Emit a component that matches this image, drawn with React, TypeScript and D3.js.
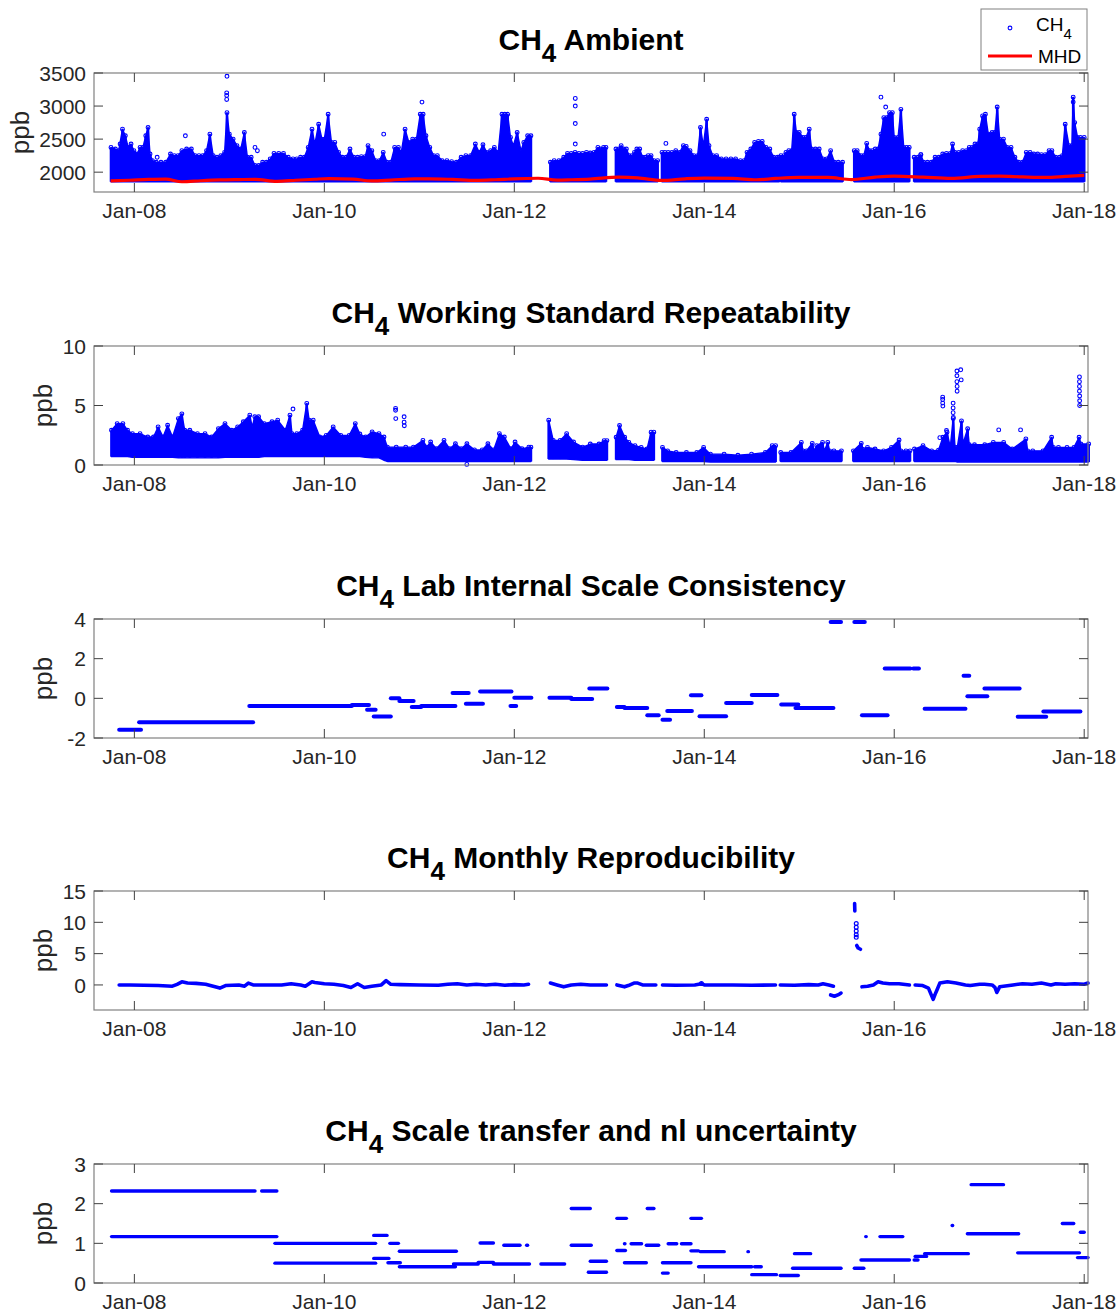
import React from 'react';
import * as d3 from 'd3';

// ---------- axis ticks ----------
const xTickYears = [2008, 2010, 2012, 2014, 2016, 2018];
const xTickLabels = ['Jan-08', 'Jan-10', 'Jan-12', 'Jan-14', 'Jan-16', 'Jan-18'];

const ambientTicks = [2000, 2500, 3000, 3500];
const repeatTicks = [0, 5, 10];
const labTicks = [-2, 0, 2, 4];
const monthlyTicks = [0, 5, 10, 15];
const transferTicks = [0, 1, 2, 3];

// ---------- CH4 ambient (decimal year, upper edge of the dense cloud, ppb); null = no data ----------
const AMBIENT_FLOOR = 1855;
const ambientTop: ([number, number] | null)[] = [
  [2007.754, 2375], [2007.8, 2350], [2007.835, 2325], [2007.875, 2650], [2007.905, 2550], [2007.935, 2375],
  [2007.965, 2425], [2007.995, 2325], [2008.03, 2275], [2008.06, 2375], [2008.09, 2375], [2008.12, 2550],
  [2008.144, 2675], [2008.165, 2275], [2008.19, 2175], [2008.23, 2150], [2008.28, 2150], [2008.33, 2150],
  [2008.38, 2275], [2008.42, 2250], [2008.46, 2250], [2008.5, 2325], [2008.55, 2350], [2008.6, 2350],
  [2008.64, 2250], [2008.68, 2250], [2008.72, 2250], [2008.76, 2325], [2008.795, 2575], [2008.83, 2250],
  [2008.87, 2225], [2008.91, 2250], [2008.95, 2300], [2008.975, 2900], [2009.0, 2575], [2009.04, 2500],
  [2009.08, 2400], [2009.12, 2350], [2009.158, 2600], [2009.19, 2225], [2009.23, 2225], [2009.27, 2100],
  [2009.31, 2100], [2009.35, 2150], [2009.39, 2150], [2009.43, 2200], [2009.47, 2285], [2009.52, 2285],
  [2009.57, 2285], [2009.62, 2225], [2009.67, 2200], [2009.71, 2200], [2009.75, 2225], [2009.79, 2225],
  [2009.83, 2375], [2009.87, 2650], [2009.9, 2425], [2009.94, 2725], [2009.975, 2500], [2010.0, 2500],
  [2010.04, 2875], [2010.075, 2450], [2010.11, 2450], [2010.15, 2300], [2010.19, 2225], [2010.23, 2225],
  [2010.27, 2350], [2010.31, 2225], [2010.35, 2225], [2010.39, 2235], [2010.43, 2235], [2010.46, 2400],
  [2010.5, 2325], [2010.54, 2175], [2010.58, 2175], [2010.62, 2300], [2010.66, 2150], [2010.7, 2150],
  [2010.74, 2375], [2010.78, 2375], [2010.81, 2300], [2010.85, 2650], [2010.89, 2450], [2010.93, 2500],
  [2010.97, 2500], [2011.01, 2875], [2011.04, 2875], [2011.07, 2550], [2011.11, 2375], [2011.15, 2250],
  [2011.19, 2250], [2011.24, 2175], [2011.29, 2175], [2011.34, 2160], [2011.39, 2150], [2011.44, 2225],
  [2011.49, 2250], [2011.54, 2250], [2011.59, 2425], [2011.63, 2300], [2011.67, 2415], [2011.71, 2300],
  [2011.75, 2325], [2011.79, 2375], [2011.83, 2300], [2011.87, 2875], [2011.9, 2875], [2011.93, 2875],
  [2011.96, 2525], [2011.99, 2400], [2012.03, 2600], [2012.07, 2325], [2012.1, 2450], [2012.14, 2550],
  [2012.175, 2550],
  null,
  [2012.38, 2150], [2012.42, 2175], [2012.47, 2175], [2012.52, 2225], [2012.56, 2285], [2012.6, 2285],
  [2012.64, 2300], [2012.68, 2285], [2012.72, 2285], [2012.76, 2300], [2012.8, 2290], [2012.84, 2300],
  [2012.88, 2375], [2012.91, 2350], [2012.94, 2375], [2012.965, 2375],
  null,
  [2013.07, 2350], [2013.1, 2350], [2013.125, 2400], [2013.15, 2350], [2013.18, 2350], [2013.21, 2250],
  [2013.24, 2250], [2013.265, 2300], [2013.29, 2350], [2013.32, 2350], [2013.35, 2225], [2013.38, 2225],
  [2013.41, 2250], [2013.44, 2250], [2013.47, 2175], [2013.509, 2175],
  null,
  [2013.555, 2300], [2013.585, 2300], [2013.62, 2300], [2013.66, 2300], [2013.7, 2325], [2013.74, 2300],
  [2013.78, 2400], [2013.81, 2390], [2013.85, 2325], [2013.89, 2250], [2013.93, 2250], [2013.96, 2675],
  [2013.99, 2400], [2014.025, 2800], [2014.05, 2400], [2014.09, 2250], [2014.13, 2250], [2014.18, 2200],
  [2014.23, 2200], [2014.28, 2200], [2014.33, 2200], [2014.38, 2175], [2014.42, 2175], [2014.45, 2300],
  [2014.49, 2350], [2014.53, 2450], [2014.57, 2465], [2014.61, 2465], [2014.65, 2375], [2014.69, 2350],
  [2014.73, 2225], [2014.77, 2225], [2014.789, 2225],
  null,
  [2014.807, 2250], [2014.84, 2250], [2014.86, 2300], [2014.89, 2325], [2014.92, 2325], [2014.947, 2875],
  [2014.97, 2600], [2015.0, 2600], [2015.04, 2525], [2015.07, 2525], [2015.105, 2650], [2015.13, 2350],
  [2015.17, 2350], [2015.21, 2350], [2015.25, 2200], [2015.29, 2200], [2015.33, 2325], [2015.37, 2150],
  [2015.41, 2150], [2015.456, 2150],
  null,
  [2015.579, 2325], [2015.61, 2325], [2015.65, 2250], [2015.68, 2250], [2015.71, 2435], [2015.74, 2325],
  [2015.77, 2325], [2015.8, 2350], [2015.83, 2350], [2015.86, 2575], [2015.89, 2825], [2015.92, 2825],
  [2015.95, 2900], [2015.98, 2900], [2016.0, 2525], [2016.04, 2525], [2016.07, 2950], [2016.1, 2375],
  [2016.13, 2375], [2016.158, 2375],
  null,
  [2016.21, 2225], [2016.25, 2225], [2016.28, 2265], [2016.31, 2150], [2016.35, 2150], [2016.39, 2150],
  [2016.43, 2225], [2016.47, 2225], [2016.51, 2275], [2016.55, 2285], [2016.59, 2285], [2016.614, 2425],
  [2016.64, 2300], [2016.68, 2300], [2016.72, 2325], [2016.76, 2325], [2016.79, 2375], [2016.82, 2375],
  [2016.85, 2425], [2016.88, 2425], [2016.9, 2650], [2016.93, 2850], [2016.96, 2875], [2016.99, 2575],
  [2017.03, 2600], [2017.06, 2600], [2017.084, 2985], [2017.11, 2500], [2017.15, 2500], [2017.19, 2375],
  [2017.23, 2375], [2017.27, 2225], [2017.31, 2150], [2017.35, 2150], [2017.39, 2300], [2017.43, 2300],
  [2017.47, 2275], [2017.51, 2275], [2017.55, 2265], [2017.59, 2265], [2017.63, 2325], [2017.66, 2325],
  [2017.7, 2225], [2017.74, 2225], [2017.77, 2250], [2017.8, 2725], [2017.84, 2400], [2017.87, 2400],
  [2017.884, 3135], [2017.9, 2750], [2017.93, 2525], [2017.96, 2525], [2018.0, 2525],
];

// isolated ambient samples above the cloud
const ambientOutliers: [number, number][] = [
  [2007.85, 2425], [2008.24, 2225], [2008.537, 2550], [2008.975, 3450], [2008.972, 3200], [2008.972, 3160],
  [2008.972, 3100], [2009.27, 2375], [2009.295, 2325], [2010.625, 2575], [2011.028, 3060], [2012.642, 3115],
  [2012.642, 3000], [2012.642, 2735], [2012.642, 2425], [2013.596, 2435], [2015.86, 3135], [2015.91, 2985],
  [2017.884, 3060], [2016.28, 2265],
];

// Mace Head baseline (decimal year, ppb)
const mhd: [number, number][] = [
  [2007.75, 1868], [2007.95, 1878], [2008.15, 1890], [2008.33, 1895], [2008.5, 1855], [2008.7, 1870],
  [2008.9, 1882], [2009.1, 1888], [2009.27, 1892], [2009.5, 1862], [2009.7, 1878], [2009.9, 1893],
  [2010.05, 1902], [2010.3, 1895], [2010.5, 1868], [2010.7, 1880], [2010.95, 1900], [2011.1, 1900],
  [2011.35, 1890], [2011.6, 1875], [2011.8, 1885], [2012.0, 1900], [2012.25, 1908], [2012.45, 1880],
  [2012.6, 1885], [2012.8, 1895], [2013.1, 1925], [2013.3, 1915], [2013.55, 1875], [2013.8, 1900],
  [2014.0, 1910], [2014.3, 1905], [2014.55, 1885], [2014.75, 1905], [2015.0, 1920], [2015.3, 1920],
  [2015.55, 1888], [2015.8, 1925], [2016.0, 1940], [2016.3, 1925], [2016.6, 1905], [2016.9, 1935],
  [2017.1, 1940], [2017.35, 1928], [2017.6, 1920], [2017.8, 1935], [2018.0, 1950],
];

// ---------- working standard repeatability (decimal year, low, high, ppb); null = no data ----------
const repeatBand: ([number, number, number] | null)[] = [
  [2007.759, 0.7, 2.92], [2007.819, 0.7, 3.48], [2007.879, 0.7, 3.48], [2007.928, 0.7, 2.92], [2007.98, 0.65, 2.63],
  [2008.06, 0.65, 2.63], [2008.141, 0.65, 2.35], [2008.201, 0.65, 2.35], [2008.25, 0.65, 3.2], [2008.302, 0.65, 2.35],
  [2008.35, 0.65, 3.34], [2008.402, 0.65, 2.35], [2008.463, 0.6, 3.9], [2008.5, 0.6, 4.3], [2008.53, 0.6, 2.92],
  [2008.584, 0.6, 2.92], [2008.664, 0.6, 2.63], [2008.744, 0.6, 2.63], [2008.813, 0.6, 2.35], [2008.885, 0.6, 3.06],
  [2008.954, 0.65, 3.48], [2009.026, 0.65, 2.92], [2009.087, 0.65, 3.2], [2009.147, 0.65, 3.63], [2009.215, 0.65, 4.19],
  [2009.24, 0.65, 3.2], [2009.268, 0.65, 4.05], [2009.308, 0.65, 4.05], [2009.368, 0.7, 3.48], [2009.449, 0.7, 3.63],
  [2009.509, 0.7, 3.77], [2009.59, 0.7, 2.92], [2009.638, 0.7, 4.19], [2009.66, 0.7, 2.63], [2009.71, 0.7, 2.63],
  [2009.771, 0.7, 2.92], [2009.815, 0.7, 5.18], [2009.84, 0.7, 3.77], [2009.883, 0.7, 3.77], [2009.952, 0.7, 2.35],
  [2010.02, 0.7, 2.49], [2010.093, 0.7, 3.2], [2010.173, 0.7, 2.49], [2010.262, 0.7, 2.49], [2010.326, 0.7, 3.48],
  [2010.374, 0.7, 2.6], [2010.435, 0.65, 2.35], [2010.503, 0.6, 2.78], [2010.575, 0.6, 2.63], [2010.628, 0.4, 2.35],
  [2010.664, 0.3, 1.5], [2010.757, 0.3, 1.5], [2010.857, 0.3, 1.5], [2010.938, 0.3, 1.5], [2011.038, 0.3, 2.07],
  [2011.078, 0.3, 1.5], [2011.119, 0.3, 1.93], [2011.179, 0.3, 1.36], [2011.26, 0.3, 2.07], [2011.32, 0.3, 1.36],
  [2011.38, 0.3, 1.78], [2011.441, 0.3, 1.36], [2011.501, 0.3, 1.78], [2011.581, 0.3, 1.27], [2011.662, 0.3, 1.27],
  [2011.722, 0.3, 1.78], [2011.783, 0.3, 1.27], [2011.843, 0.3, 2.63], [2011.895, 0.3, 2.35], [2011.964, 0.3, 1.36],
  [2012.008, 0.3, 1.93], [2012.08, 0.3, 1.36], [2012.153, 0.3, 1.5], [2012.175, 0.3, 1.5],
  null,
  [2012.362, 0.5, 3.77], [2012.41, 0.5, 2.07], [2012.483, 0.5, 2.07], [2012.551, 0.5, 2.63], [2012.624, 0.45, 1.93],
  [2012.72, 0.4, 1.5], [2012.8, 0.4, 1.76], [2012.892, 0.4, 1.76], [2012.946, 0.4, 2.05], [2012.975, 0.4, 2.05],
  null,
  [2013.072, 0.45, 2.33], [2013.108, 0.45, 3.32], [2013.162, 0.45, 2.33], [2013.206, 0.45, 1.9], [2013.271, 0.4, 1.62],
  [2013.336, 0.4, 1.48], [2013.397, 0.4, 1.34], [2013.44, 0.4, 2.76], [2013.469, 0.4, 2.76],
  null,
  [2013.56, 0.3, 1.48], [2013.614, 0.3, 1.19], [2013.704, 0.3, 1.05], [2013.812, 0.3, 1.05], [2013.921, 0.3, 1.05],
  [2013.993, 0.3, 1.48], [2014.065, 0.25, 0.91], [2014.209, 0.25, 0.91], [2014.354, 0.25, 0.82], [2014.498, 0.25, 0.91],
  [2014.643, 0.25, 1.05], [2014.715, 0.25, 1.62], [2014.751, 0.25, 1.62],
  null,
  [2014.805, 0.3, 1.05], [2014.913, 0.3, 1.05], [2015.022, 0.3, 1.9], [2015.04, 0.3, 1.19], [2015.076, 0.3, 1.19],
  [2015.137, 0.3, 1.82], [2015.16, 0.3, 1.19], [2015.184, 0.3, 1.62], [2015.245, 0.3, 1.9], [2015.265, 0.3, 1.19],
  [2015.3, 0.3, 1.9], [2015.32, 0.3, 1.19], [2015.365, 0.3, 1.19], [2015.444, 0.3, 1.19],
  null,
  [2015.57, 0.3, 1.19], [2015.653, 0.3, 1.82], [2015.675, 0.3, 1.3], [2015.718, 0.3, 1.48], [2015.798, 0.3, 1.34],
  [2015.888, 0.3, 1.19], [2015.971, 0.3, 1.48], [2016.051, 0.3, 2.1], [2016.07, 0.3, 1.19], [2016.123, 0.3, 1.19],
  [2016.166, 0.3, 1.19],
  null,
  [2016.213, 0.3, 1.34], [2016.303, 0.3, 1.62], [2016.394, 0.3, 1.19], [2016.466, 0.3, 1.25], [2016.513, 0.3, 2.33],
  [2016.556, 0.3, 2.76], [2016.59, 0.3, 1.5], [2016.621, 0.3, 3.9], [2016.64, 0.3, 1.5], [2016.664, 0.25, 1.48],
  [2016.708, 0.25, 3.7], [2016.725, 0.25, 1.8], [2016.773, 0.25, 3.04], [2016.79, 0.25, 1.7], [2016.845, 0.25, 1.7],
  [2016.953, 0.25, 1.7], [2017.043, 0.25, 1.9], [2017.152, 0.25, 1.9], [2017.242, 0.25, 1.34], [2017.386, 0.25, 2.19],
  [2017.405, 0.25, 1.19], [2017.458, 0.25, 1.19], [2017.567, 0.25, 1.19], [2017.657, 0.25, 2.33], [2017.675, 0.25, 1.48],
  [2017.729, 0.25, 1.48], [2017.819, 0.25, 1.48], [2017.892, 0.25, 1.48], [2017.946, 0.25, 2.33], [2017.965, 0.25, 1.76],
  [2018.047, 0.25, 1.76],
];

// isolated repeatability samples
const repeatOutliers: [number, number][] = [
  [2009.67, 4.7], [2010.75, 4.76], [2010.75, 4.6], [2010.752, 3.9], [2010.84, 4.05], [2010.84, 3.6], [2010.842, 3.3],
  [2011.5, 0.05], [2016.51, 5.7], [2016.51, 5.5], [2016.51, 5.2], [2016.512, 4.95], [2016.62, 5.2], [2016.62, 4.8],
  [2016.62, 4.4], [2016.622, 4.0], [2016.66, 7.9], [2016.66, 7.5], [2016.66, 7.0], [2016.662, 6.6], [2016.662, 6.2],
  [2016.7, 8.0], [2016.705, 7.15], [2017.1, 2.95], [2017.33, 2.95], [2017.95, 7.4], [2017.95, 7.0], [2017.95, 6.6],
  [2017.95, 6.2], [2017.952, 5.8], [2017.952, 5.4], [2017.952, 5.0], [2016.48, 2.3], [2016.55, 2.9],
];

// ---------- lab internal scale consistency (start, end, ppb) ----------
const labOffsets: [number, number, number][] = [
  [2007.84, 2008.07, -1.58], [2008.05, 2009.25, -1.21], [2009.21, 2010.29, -0.39], [2010.29, 2010.47, -0.34],
  [2010.45, 2010.54, -0.57], [2010.52, 2010.7, -0.92], [2010.7, 2010.79, 0.0], [2010.79, 2010.94, -0.13],
  [2010.92, 2011.02, -0.44], [2011.02, 2011.38, -0.39], [2011.35, 2011.52, 0.27], [2011.49, 2011.67, -0.27],
  [2011.64, 2011.97, 0.34], [2011.96, 2012.02, -0.39], [2012.0, 2012.18, 0.03], [2012.37, 2012.6, 0.03],
  [2012.6, 2012.82, -0.03], [2012.79, 2012.98, 0.5], [2013.08, 2013.16, -0.44], [2013.16, 2013.4, -0.49],
  [2013.4, 2013.52, -0.85], [2013.56, 2013.64, -1.08], [2013.61, 2013.87, -0.64], [2013.86, 2013.97, 0.15],
  [2013.95, 2014.23, -0.9], [2014.23, 2014.5, -0.24], [2014.5, 2014.77, 0.17], [2014.81, 2014.99, -0.31],
  [2014.96, 2015.36, -0.49], [2015.33, 2015.44, 3.85], [2015.58, 2015.69, 3.85], [2015.66, 2015.93, -0.85],
  [2015.9, 2016.17, 1.51], [2016.2, 2016.26, 1.51], [2016.32, 2016.75, -0.52], [2016.73, 2016.79, 1.14],
  [2016.77, 2016.98, 0.1], [2016.95, 2017.32, 0.5], [2017.3, 2017.6, -0.93], [2017.57, 2017.96, -0.66],
];

// ---------- monthly reproducibility (decimal year, ppb), one list per continuous run ----------
const reproRuns: [number, number][][] = [
  [[2007.84, 0], [2007.95, 0], [2008.1, -0.05], [2008.25, -0.1], [2008.4, -0.2], [2008.45, 0.1], [2008.5, 0.5],
   [2008.56, 0.3], [2008.65, 0.25], [2008.75, 0.1], [2008.85, -0.3], [2008.9, -0.5], [2008.96, -0.1], [2009.1, 0.0],
   [2009.16, -0.2], [2009.2, 0.3], [2009.25, 0.0], [2009.4, 0.0], [2009.55, 0.0], [2009.65, 0.2], [2009.75, 0.0],
   [2009.8, -0.2], [2009.87, 0.5], [2009.9, 0.4], [2010.0, 0.2], [2010.1, 0.1], [2010.2, -0.1], [2010.28, -0.4],
   [2010.35, 0.2], [2010.42, -0.4], [2010.5, -0.2], [2010.6, 0.0], [2010.65, 0.7], [2010.7, 0.1], [2010.8, 0.05],
   [2011.0, 0.0], [2011.2, -0.05], [2011.3, 0.1], [2011.4, 0.2], [2011.5, 0.0], [2011.6, 0.1], [2011.7, 0.0],
   [2011.8, 0.1], [2011.9, -0.05], [2012.0, 0.05], [2012.1, 0.0], [2012.15, 0.1]],
  [[2012.38, 0.3], [2012.45, 0.0], [2012.52, -0.3], [2012.6, 0.0], [2012.7, 0.1], [2012.8, 0.0], [2012.97, 0.0]],
  [[2013.08, 0.0], [2013.16, -0.3], [2013.2, -0.1], [2013.26, 0.3], [2013.3, 0.3], [2013.35, 0.0], [2013.49, 0.0]],
  [[2013.56, 0.0], [2013.7, -0.05], [2013.9, 0.0], [2013.97, 0.2], [2014.0, 0.0], [2014.3, 0.0], [2014.5, -0.05],
   [2014.75, 0.0]],
  [[2014.8, 0.0], [2014.95, -0.05], [2015.1, 0.05], [2015.2, 0.0], [2015.25, 0.2], [2015.31, 0.0], [2015.36, -0.2]],
  [[2015.33, -1.6], [2015.37, -1.8], [2015.42, -1.5], [2015.44, -1.3]],
  [[2015.583, 13.0], [2015.585, 11.8]],
  [[2015.605, 6.3], [2015.62, 5.9], [2015.645, 5.7]],
  [[2015.66, -0.3], [2015.72, -0.2], [2015.78, 0.0], [2015.83, 0.5], [2015.88, 0.3], [2015.95, 0.2], [2016.05, 0.2],
   [2016.16, 0.0]],
  [[2016.22, 0.0], [2016.3, -0.1], [2016.36, -0.5], [2016.41, -2.3], [2016.43, -1.5], [2016.45, -0.8], [2016.48, 0.3],
   [2016.56, 0.5], [2016.65, 0.3], [2016.75, 0.0], [2016.8, -0.1], [2016.9, 0.1], [2016.95, 0.1], [2017.03, 0.0],
   [2017.06, -0.4], [2017.08, -1.2], [2017.11, -0.3], [2017.25, 0.0], [2017.35, 0.2], [2017.45, 0.1], [2017.55, 0.3],
   [2017.65, 0.0], [2017.7, 0.2], [2017.8, 0.1], [2017.9, 0.2], [2018.0, 0.1], [2018.04, 0.3]],
];
const reproDots: [number, number][] = [
  [2015.6, 9.8], [2015.6, 9.2], [2015.6, 8.6], [2015.6, 8.0], [2015.6, 7.6], [2013.97, 0.25],
];

// ---------- scale transfer and non-linearity uncertainty (start, end, ppb) ----------
const transferLevels: [number, number, number][] = [
  [2007.76, 2009.27, 2.32], [2009.34, 2009.5, 2.32], [2007.76, 2009.5, 1.17], [2009.48, 2010.54, 1.0],
  [2009.48, 2010.54, 0.5], [2010.52, 2010.68, 0.62], [2010.52, 2010.66, 1.2], [2010.69, 2010.78, 1.0],
  [2010.67, 2010.8, 0.51], [2010.79, 2011.38, 0.41], [2010.79, 2011.39, 0.8], [2011.36, 2011.62, 0.48],
  [2011.64, 2011.78, 1.01], [2011.62, 2011.78, 0.52], [2011.78, 2012.16, 0.48], [2011.89, 2012.06, 0.95],
  [2012.13, 2012.14, 0.95], [2012.28, 2012.53, 0.48], [2012.6, 2012.8, 1.88], [2012.6, 2012.81, 0.95],
  [2012.8, 2012.97, 0.55], [2012.78, 2012.97, 0.27], [2013.08, 2013.18, 1.63], [2013.08, 2013.17, 0.82],
  [2013.16, 2013.165, 0.99], [2013.23, 2013.34, 0.99], [2013.16, 2013.39, 0.51], [2013.4, 2013.47, 1.88],
  [2013.39, 2013.52, 0.95], [2013.56, 2013.62, 0.25], [2013.62, 2013.71, 0.99], [2013.56, 2013.86, 0.51],
  [2013.76, 2013.86, 0.99], [2013.86, 2013.97, 1.63], [2013.86, 2013.94, 0.81], [2013.96, 2014.21, 0.79],
  [2013.94, 2014.5, 0.41], [2014.46, 2014.465, 0.79], [2014.5, 2014.76, 0.21], [2014.53, 2014.6, 0.41],
  [2014.8, 2014.99, 0.19], [2014.95, 2015.12, 0.74], [2014.93, 2015.44, 0.37], [2015.58, 2015.68, 0.37],
  [2015.7, 2015.705, 1.17], [2015.65, 2016.16, 0.58], [2015.85, 2016.09, 1.17], [2016.21, 2016.25, 0.58],
  [2016.22, 2016.34, 0.67], [2016.32, 2016.78, 0.74], [2016.61, 2016.615, 1.45], [2016.77, 2017.31, 1.24],
  [2016.81, 2017.15, 2.48], [2017.3, 2017.95, 0.76], [2017.77, 2017.89, 1.5], [2017.96, 2018.0, 1.28],
  [2017.93, 2018.04, 0.64],
];

// ---------- layout ----------
const W = 1120;
const H = 1312;
const LEFT = 94;
const RIGHT = 1088;
const BOX_H = 119;
const TOPS = [73, 346, 619, 891, 1164];
const FONT = '"Liberation Sans", Arial, Helvetica, sans-serif';
const BLUE = '#0000ff';
const RED = '#ff0000';
const AXIS = '#262626';

const x = d3.scaleLinear().domain([2007.575, 2018.04]).range([LEFT, RIGHT]);

function Title({ top, text }: { top: number; text: string }) {
  return (
    <text x={(LEFT + RIGHT) / 2} y={top - 23} textAnchor="middle" fontFamily={FONT} fontWeight="bold"
      fontSize={30} fill="#000">
      CH<tspan dy={12} fontSize={26}>4</tspan><tspan dy={-12}>{' ' + text}</tspan>
    </text>
  );
}

function Frame({ top, y, ticks, labelX, title }: {
  top: number; y: d3.ScaleLinear<number, number>; ticks: number[]; labelX: number; title: string;
}) {
  const bottom = top + BOX_H;
  return (
    <g fontFamily={FONT}>
      <rect x={LEFT} y={top} width={RIGHT - LEFT} height={BOX_H} fill="none" stroke="#808080" strokeWidth={1.2} />
      {xTickYears.map((t, i) => (
        <g key={t}>
          <line x1={x(t)} x2={x(t)} y1={bottom} y2={bottom - 9} stroke="#404040" />
          <line x1={x(t)} x2={x(t)} y1={top} y2={top + 9} stroke="#404040" />
          <text x={x(t)} y={bottom + 26} textAnchor="middle" fontSize={21} fill={AXIS}>{xTickLabels[i]}</text>
        </g>
      ))}
      {ticks.map((v) => (
        <g key={v}>
          <line x1={LEFT} x2={LEFT + 9} y1={y(v)} y2={y(v)} stroke="#404040" />
          <line x1={RIGHT} x2={RIGHT - 9} y1={y(v)} y2={y(v)} stroke="#404040" />
          <text x={LEFT - 8} y={y(v)} dy="0.36em" textAnchor="end" fontSize={21} fill={AXIS}>{v}</text>
        </g>
      ))}
      <text transform={`translate(${labelX},${top + BOX_H / 2}) rotate(-90)`} textAnchor="middle" fontSize={26}
        fill={AXIS}>ppb</text>
      <Title top={top} text={title} />
    </g>
  );
}

function yScale(top: number, domain: [number, number]) {
  return d3.scaleLinear().domain(domain).range([top + BOX_H, top]);
}

export default function App() {
  const yA = yScale(TOPS[0], [1700, 3500]);
  const yR = yScale(TOPS[1], [0, 10]);
  const yL = yScale(TOPS[2], [-2, 4]);
  const yM = yScale(TOPS[3], [-4, 15]);
  const yT = yScale(TOPS[4], [0, 3]);

  const ambientSamples = ambientTop.filter((d): d is [number, number] => d !== null);
  const repeatSamples = repeatBand.filter((d): d is [number, number, number] => d !== null);

  // dense cloud body: linear envelope between samples
  const ambientArea = d3.area<[number, number] | null>()
    .defined((d) => d !== null)
    .x((d) => x(d![0]))
    .y0(yA(AMBIENT_FLOOR))
    .y1((d) => yA(d![1]))
    .curve(d3.curveLinear);

  const mhdLine = d3.line<[number, number]>()
    .x((d) => x(d[0]))
    .y((d) => yA(d[1]))
    .curve(d3.curveMonotoneX);

  const repeatArea = d3.area<[number, number, number] | null>()
    .defined((d) => d !== null)
    .x((d) => x(d![0]))
    .y0((d) => yR(d![1]))
    .y1((d) => yR(d![2]))
    .curve(d3.curveLinear);

  const reproLine = d3.line<[number, number]>()
    .x((d) => x(d[0]))
    .y((d) => yM(d[1]));

  return (
    <svg width={W} height={H} viewBox={`0 0 ${W} ${H}`} style={{ display: 'block', position: 'absolute', left: 0, top: 0 }}>
      <rect width={W} height={H} fill="#fff" />

      {/* CH4 ambient */}
      <path d={ambientArea(ambientTop) || ''} fill={BLUE} stroke={BLUE} strokeWidth={1.4} strokeLinejoin="round" />
      {ambientSamples.map((d, i) => (
        <line key={i} x1={x(d[0])} x2={x(d[0])} y1={yA(AMBIENT_FLOOR)} y2={yA(d[1])} stroke={BLUE} strokeWidth={2.6} />
      ))}
      {ambientSamples.map((d, i) => (
        <circle key={'t' + i} cx={x(d[0])} cy={yA(d[1])} r={1.9} fill="none" stroke={BLUE} strokeWidth={1.1} />
      ))}
      {ambientOutliers.map((d, i) => (
        <circle key={i} cx={x(d[0])} cy={yA(d[1])} r={1.9} fill="none" stroke={BLUE} strokeWidth={1.1} />
      ))}
      <path d={mhdLine(mhd) || ''} fill="none" stroke={RED} strokeWidth={3.2} />
      <Frame top={TOPS[0]} y={yA} ticks={ambientTicks} labelX={29} title="Ambient" />

      {/* legend */}
      <g fontFamily={FONT}>
        <rect x={981} y={9} width={106} height={61} fill="#fff" stroke="#808080" />
        <circle cx={1010} cy={28} r={1.9} fill="none" stroke={BLUE} strokeWidth={1.1} />
        <text x={1036} y={31} fontSize={19} fill="#000">CH<tspan dy={8} fontSize={15}>4</tspan></text>
        <line x1={988} x2={1032} y1={56} y2={56} stroke={RED} strokeWidth={3} />
        <text x={1038} y={63} fontSize={19} fill="#000">MHD</text>
      </g>

      {/* working standard repeatability */}
      <path d={repeatArea(repeatBand) || ''} fill={BLUE} stroke={BLUE} strokeWidth={1.4} strokeLinejoin="round" />
      {repeatSamples.map((d, i) => (
        <line key={i} x1={x(d[0])} x2={x(d[0])} y1={yR(d[1])} y2={yR(d[2])} stroke={BLUE} strokeWidth={2.6} />
      ))}
      {repeatSamples.map((d, i) => (
        <circle key={'t' + i} cx={x(d[0])} cy={yR(d[2])} r={1.9} fill="none" stroke={BLUE} strokeWidth={1.1} />
      ))}
      {repeatOutliers.map((d, i) => (
        <circle key={i} cx={x(d[0])} cy={yR(d[1])} r={1.9} fill="none" stroke={BLUE} strokeWidth={1.1} />
      ))}
      <Frame top={TOPS[1]} y={yR} ticks={repeatTicks} labelX={52} title="Working Standard Repeatability" />

      {/* lab internal scale consistency */}
      {labOffsets.map((d, i) => (
        <line key={i} x1={x(d[0])} x2={x(d[1])} y1={yL(d[2])} y2={yL(d[2])} stroke={BLUE} strokeWidth={4}
          strokeLinecap="round" />
      ))}
      <Frame top={TOPS[2]} y={yL} ticks={labTicks} labelX={52} title="Lab Internal Scale Consistency" />

      {/* monthly reproducibility */}
      {reproRuns.map((run, i) => (
        <path key={i} d={reproLine(run) || ''} fill="none" stroke={BLUE} strokeWidth={3.6} strokeLinecap="round"
          strokeLinejoin="round" />
      ))}
      {reproDots.map((d, i) => (
        <circle key={i} cx={x(d[0])} cy={yM(d[1])} r={1.9} fill="none" stroke={BLUE} strokeWidth={1.2} />
      ))}
      <Frame top={TOPS[3]} y={yM} ticks={monthlyTicks} labelX={52} title="Monthly Reproducibility" />

      {/* scale transfer and non-linearity */}
      {transferLevels.map((d, i) => (
        <line key={i} x1={x(d[0])} x2={x(d[1])} y1={yT(d[2])} y2={yT(d[2])} stroke={BLUE} strokeWidth={3.4}
          strokeLinecap="round" />
      ))}
      <Frame top={TOPS[4]} y={yT} ticks={transferTicks} labelX={52} title="Scale transfer and nl uncertainty" />
    </svg>
  );
}
